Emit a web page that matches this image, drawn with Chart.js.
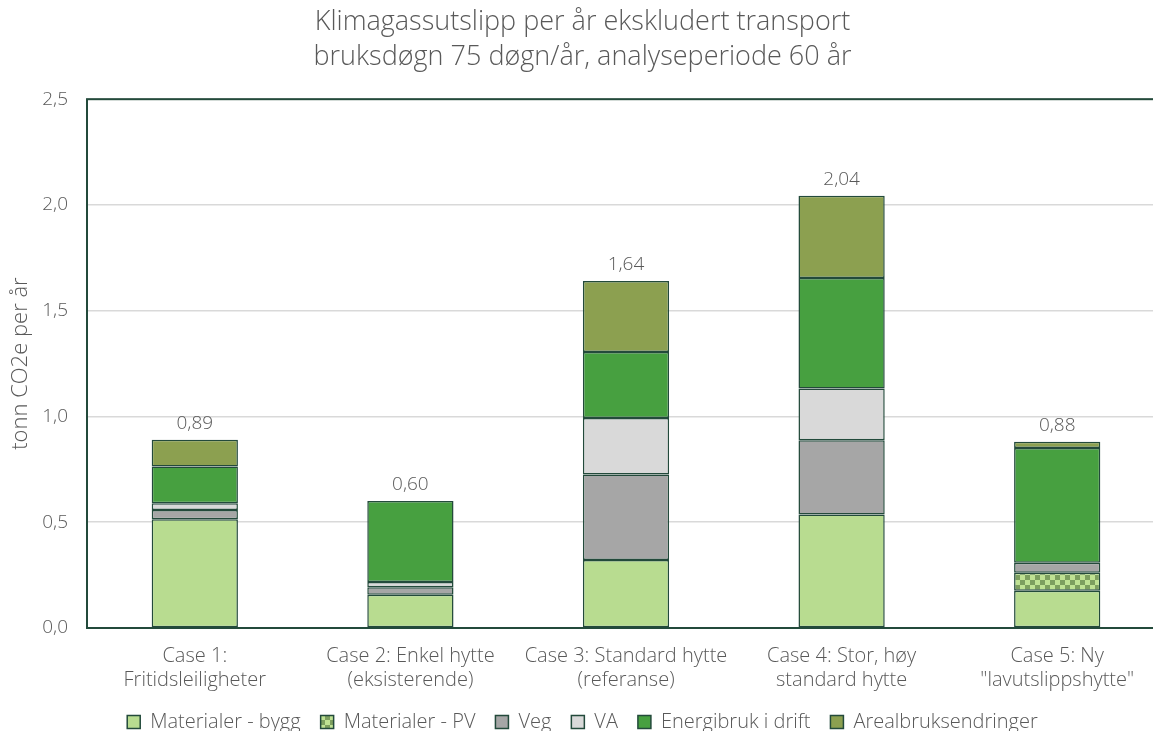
<!DOCTYPE html>
<html lang="no">
<head>
<meta charset="utf-8">
<title>Klimagassutslipp per år</title>
<script src="https://cdn.jsdelivr.net/npm/chart.js@4/dist/chart.umd.min.js"></script>
<style>
    html, body { margin: 0; padding: 0; background: #fff; overflow: hidden; }
    #wrap { width: 1166px; height: 742px; position: relative; }
</style>
</head>
<body>
<div id="wrap"><canvas id="co2-chart"></canvas></div>
<script>
// Cases and emissions per year (tonn CO2e), by source
const cases = [
    ['Case 1:', 'Fritidsleiligheter'],
    ['Case 2: Enkel hytte', '(eksisterende)'],
    ['Case 3: Standard hytte', '(referanse)'],
    ['Case 4: Stor, høy', 'standard hytte'],
    ['Case 5: Ny', '"lavutslippshytte"']
];
const materialerBygg = [0.514, 0.157, 0.321, 0.537, 0.176];
const materialerPV   = [null, null, null, null, 0.085];
const veg            = [0.044, 0.036, 0.405, 0.351, 0.047];
const va             = [0.032, 0.024, 0.267, 0.244, null];
const energibruk     = [0.173, 0.383, 0.312, 0.523, 0.543];
const arealbruk      = [0.127, null, 0.335, 0.388, 0.029];
const yTicks = [0, 0.5, 1.0, 1.5, 2.0, 2.5];

const textColor = '#595959';
const edgeColor = '#234a3b';
const fontFamily = '"Open Sans", Lato, sans-serif';

// checkered fill for the PV part
function makeChecker() {
    const c = document.createElement('canvas');
    c.width = 10;
    c.height = 10;
    const g = c.getContext('2d');
    g.fillStyle = '#bfe293';
    g.fillRect(0, 0, 10, 10);
    g.fillStyle = '#7d9f5f';
    g.fillRect(0, 0, 5, 5);
    g.fillRect(5, 5, 5, 5);
    return g.createPattern(c, 'repeat');
}

const fmt = (v, d) => v.toFixed(d).replace('.', ',');

function series(label, data, color) {
    return {
        label: label,
        data: data,
        backgroundColor: color,
        borderColor: edgeColor,
        borderWidth: 1.5,
        borderSkipped: false,
        categoryPercentage: 1,
        barPercentage: 0.4
    };
}

// totals printed above each stack
const totalsPlugin = {
    id: 'totals',
    afterDatasetsDraw(chart) {
        const ctx = chart.ctx;
        const yScale = chart.scales.y;
        const meta = chart.getDatasetMeta(0);
        ctx.save();
        ctx.font = '300 19px ' + fontFamily;
        ctx.fillStyle = textColor;
        ctx.textAlign = 'center';
        ctx.textBaseline = 'bottom';
        cases.forEach((c, i) => {
            const total = chart.data.datasets.reduce((s, ds) => s + (ds.data[i] || 0), 0);
            const x = meta.data[i].x;
            const y = yScale.getPixelForValue(total);
            ctx.fillText(fmt(total, 2), x, y - 7);
        });
        ctx.restore();
    }
};

// dark frame around the plot area
const framePlugin = {
    id: 'frame',
    afterDraw(chart) {
        const a = chart.chartArea;
        const ctx = chart.ctx;
        ctx.save();
        ctx.strokeStyle = edgeColor;
        ctx.lineWidth = 2;
        ctx.strokeRect(a.left, a.top, a.right - a.left, a.bottom - a.top);
        ctx.restore();
    }
};

new Chart(document.getElementById('co2-chart'), {
    type: 'bar',
    data: {
        labels: cases,
        datasets: [
            series('Materialer - bygg', materialerBygg, '#b8dc90'),
            series('Materialer - PV', materialerPV, makeChecker()),
            series('Veg', veg, '#a6a6a6'),
            series('VA', va, '#d9d9d9'),
            series('Energibruk i drift', energibruk, '#47a040'),
            series('Arealbruksendringer', arealbruk, '#8ca050')
        ]
    },
    options: {
        responsive: true,
        maintainAspectRatio: false,
        animation: false,
        layout: { padding: { left: 0, right: 1, top: 5, bottom: 0 } },
        plugins: {
            title: {
                display: true,
                text: ['Klimagassutslipp per år ekskludert transport', 'bruksdøgn 75 døgn/år, analyseperiode 60 år'],
                color: textColor,
                font: { family: fontFamily, size: 27, weight: 300, lineHeight: 1.3 },
                padding: { top: 0, bottom: 24 }
            },
            legend: {
                position: 'bottom',
                labels: {
                    color: textColor,
                    font: { family: fontFamily, size: 20, weight: 300 },
                    boxWidth: 13,
                    boxHeight: 13,
                    padding: 20
                }
            },
            tooltip: { enabled: false }
        },
        scales: {
            x: {
                stacked: true,
                grid: { display: false, drawTicks: false },
                border: { display: false },
                afterFit(scale) {
                    scale.height = 64;
                },
                ticks: {
                    color: textColor,
                    font: { family: fontFamily, size: 20, weight: 300, lineHeight: 1.2 },
                    padding: 16,
                    maxRotation: 0,
                    autoSkip: false
                }
            },
            y: {
                stacked: true,
                min: 0,
                max: 2.5,
                afterBuildTicks(scale) {
                    scale.ticks = yTicks.map(v => ({ value: v }));
                },
                afterFit(scale) {
                    scale.width = 87;
                },
                grid: { color: '#d9d9d9', lineWidth: 1.5, drawTicks: false },
                border: { display: false },
                ticks: {
                    color: textColor,
                    font: { family: fontFamily, size: 19, weight: 300 },
                    padding: 19,
                    callback: v => fmt(v, 1)
                },
                title: {
                    display: true,
                    text: 'tonn CO2e per år',
                    color: textColor,
                    font: { family: fontFamily, size: 22, weight: 300 },
                    padding: { top: 8, bottom: 0 }
                }
            }
        }
    },
    plugins: [totalsPlugin, framePlugin]
});
</script>
</body>
</html>
